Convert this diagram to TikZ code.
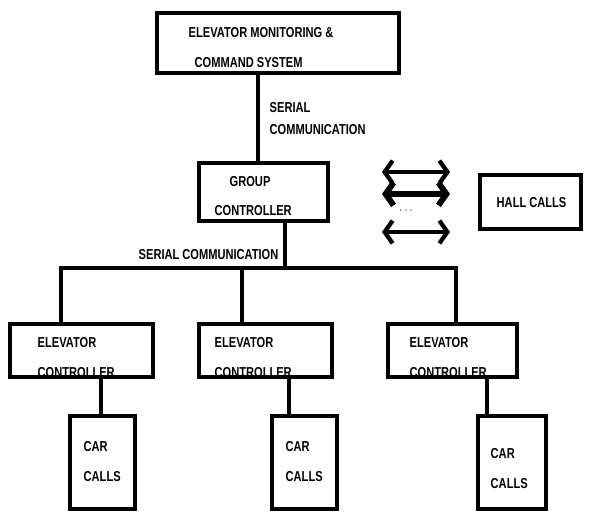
\documentclass[tikz,border=0pt]{standalone}
\usepackage{fontspec}
\setmainfont[FakeStretch=0.77]{Liberation Sans}
\usetikzlibrary{arrows.meta,fit}

\begin{document}
\begin{tikzpicture}[x=0.75pt,y=-0.75pt,line width=2.6pt,
box/.style={draw,line width=3.4pt,inner sep=0pt},
box text/.style={anchor=base west,inner sep=0pt,font=\fontsize{10.8}{12}\selectfont\bfseries},
both ways/.style={{Straight Barb[length=6pt,width=17pt]}-{Straight Barb[length=6pt,width=17pt]},line width=3.2pt}]

\useasboundingbox (0,0) rectangle (595,520);

% boxes
\node[box,fit={(157,13) (399,73)}] (ems) {};
\node[box,fit={(199,163) (328,221)}] (gc) {};
\node[box,fit={(480,175) (581,229)}] (hall) {};
\node[box,fit={(10,324) (153,377)}] (ec1) {};
\node[box,fit={(199,324) (332,377)}] (ec2) {};
\node[box,fit={(388,324) (517,377)}] (ec3) {};
\node[box,fit={(70,416) (135,509)}] (cc1) {};
\node[box,fit={(272,416) (337,509)}] (cc2) {};
\node[box,fit={(478,416) (546,509)}] (cc3) {};

% texts
\node[box text] (emsa) at (187,38) {ELEVATOR MONITORING \&};
\node[box text] (emsb) at (193,68) {COMMAND SYSTEM};
\node[box text] (sera) at (268,113) {SERIAL};
\node[box text] (serb) at (268,135) {COMMUNICATION};
\node[box text] (gca) at (228,187) {GROUP};
\node[box text] (gcb) at (213,215) {CONTROLLER};
\node[box text] (ser) at (137,259) {SERIAL COMMUNICATION};
\node[box text] (hallt) at (495,208) {HALL CALLS};
\node[font=\fontsize{8}{9}\selectfont\bfseries,text=blue!30!black!60] (more) at (406,211) {. . .};

\foreach \n/\x in {1/36,2/213,3/408} {
  \node[box text] (ec\n a) at (\x,347) {ELEVATOR};
  \node[box text] (ec\n b) at (\x,377) {CONTROLLER};
}
\foreach \n/\x/\y in {1/82/451,2/284/451,3/489/458} {
  \node[box text] (cc\n a) at (\x,\y) {CAR};
  \node[box text] (cc\n b) at (\x,\y+30) {CALLS};
}

% serial links
\coordinate (bus) at (285,268);
\draw (258,0 |- ems.south) -- (258,0 |- gc.north);
\draw (bus |- gc.south) -- (bus);
\draw (61,0 |- ec1.north) |- (456,268) -- (456,0 |- ec3.north);
\draw (242,0 |- ec2.north) -- (242,268);
\draw (101,0 |- ec1.south) -- (101,0 |- cc1.north);
\draw (289,0 |- ec2.south) -- (289,0 |- cc2.north);
\draw (487,0 |- ec3.south) -- (487,0 |- cc3.north);

% hall call links
\foreach \y/\n/\w in {172/a/3.2pt,194/b/4.4pt,232/c/3.2pt} {
  \coordinate (l\n) at (382,\y);
  \coordinate (r\n) at (450,\y);
  \draw[both ways,line width=\w] (l\n) -- (r\n);
}
\end{tikzpicture}
\end{document}
